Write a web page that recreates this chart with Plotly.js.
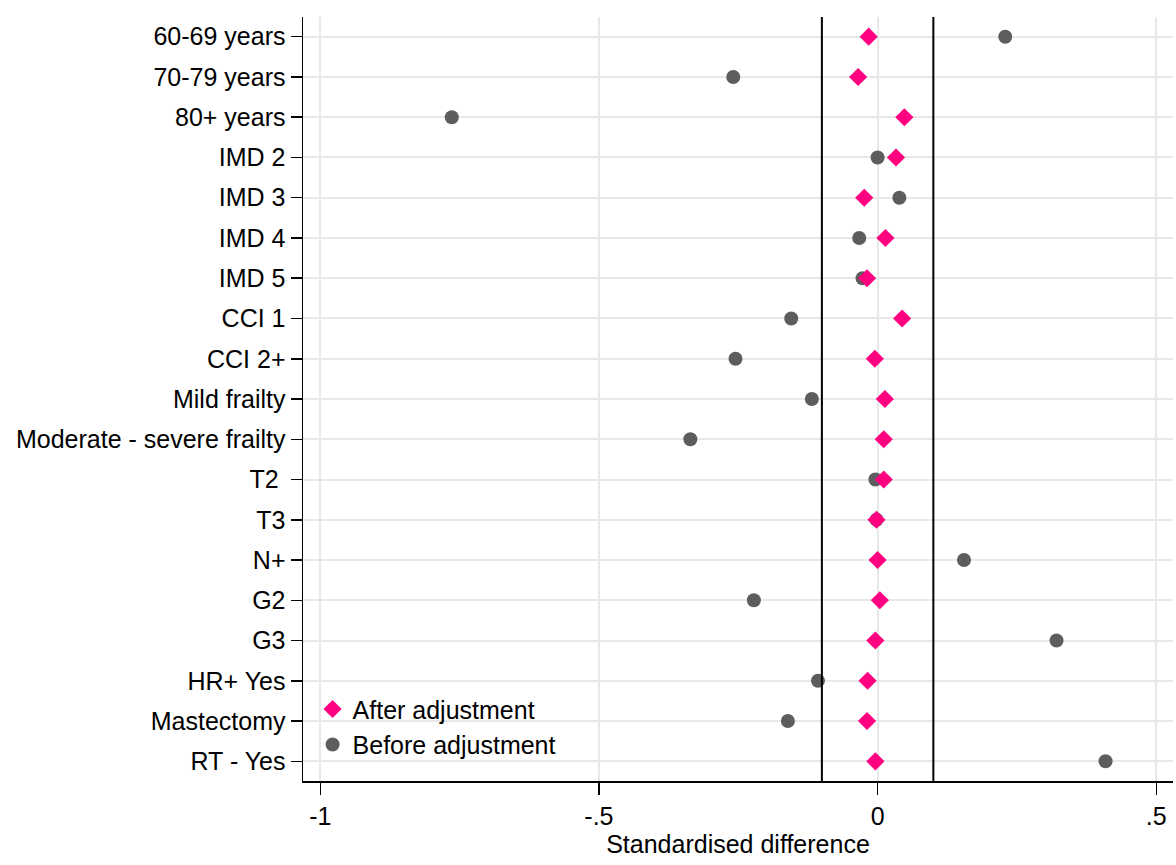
<!DOCTYPE html>
<html>
<head>
<meta charset="utf-8">
<script src="https://cdn.plot.ly/plotly-3.0.1.min.js"></script>
<style>
  html, body { margin: 0; padding: 0; background: #ffffff; }
  #chart { width: 1176px; height: 865px; }
</style>
</head>
<body>
<div id="chart"></div>
<script>
const categories = [
  "60-69 years", "70-79 years", "80+ years",
  "IMD 2", "IMD 3", "IMD 4", "IMD 5",
  "CCI 1", "CCI 2+",
  "Mild frailty", "Moderate - severe frailty",
  "T2 ", "T3", "N+", "G2", "G3",
  "HR+ Yes", "Mastectomy", "RT - Yes"
];
const beforeAdj = [
  0.229, -0.259, -0.764,
  0.000, 0.039, -0.033, -0.027,
  -0.155, -0.255,
  -0.118, -0.336,
  -0.004, -0.002, 0.155, -0.222, 0.321,
  -0.107, -0.161, 0.409
];
const afterAdj = [
  -0.016, -0.035, 0.048,
  0.033, -0.024, 0.014, -0.019,
  0.044, -0.005,
  0.013, 0.011,
  0.011, -0.002, 0.000, 0.004, -0.004,
  -0.018, -0.019, -0.004
];
const xTickVals = [-1, -0.5, 0, 0.5];
const xTickText = ["-1", "-.5", "0", ".5"];
const refLines = [-0.1, 0.1];

const FONT = "Liberation Sans, Arial, sans-serif";

const traces = [
  {
    type: "scatter", mode: "markers", name: "Before adjustment",
    x: beforeAdj, y: categories,
    marker: { symbol: "circle", size: 14, color: "#5d5d5d" },
    cliponaxis: false
  },
  {
    type: "scatter", mode: "markers", name: "After adjustment",
    x: afterAdj, y: categories,
    marker: { symbol: "diamond", size: 14, color: "#ff0080" },
    cliponaxis: false
  }
];

const shapes = refLines.map(v => ({
  type: "line", xref: "x", yref: "paper",
  x0: v, x1: v, y0: 0, y1: 1,
  line: { color: "#000000", width: 2 },
  layer: "above"
}));

const layout = {
  width: 1176, height: 865,
  paper_bgcolor: "#ffffff", plot_bgcolor: "#ffffff",
  margin: { l: 303, r: 3, t: 17, b: 84 },
  font: { family: FONT, size: 25, color: "#000000" },
  showlegend: true,
  legend: {
    traceorder: "reversed",
    x: 0.011, y: 0.018, xanchor: "left", yanchor: "bottom",
    bgcolor: "rgba(0,0,0,0)",
    font: { family: FONT, size: 25, color: "#000000" }
  },
  xaxis: {
    range: [-1.031, 0.530],
    tickvals: xTickVals, ticktext: xTickText,
    ticks: "outside", ticklen: 12, tickwidth: 1.5, tickcolor: "#000000",
    showline: true, linecolor: "#000000", linewidth: 1.5,
    showgrid: true, gridcolor: "#e8e8e8", gridwidth: 2,
    zeroline: false,
    tickfont: { family: FONT, size: 25, color: "#000000" },
    title: { text: "Standardised difference", font: { family: FONT, size: 25, color: "#000000" }, standoff: 4 }
  },
  yaxis: {
    type: "category",
    categoryorder: "array", categoryarray: categories,
    range: [18.49, -0.49],
    ticks: "outside", ticklen: 11, tickwidth: 1.5, tickcolor: "#000000",
    showline: true, linecolor: "#000000", linewidth: 1.5,
    showgrid: true, gridcolor: "#e8e8e8", gridwidth: 2,
    zeroline: false,
    tickfont: { family: FONT, size: 25, color: "#000000" },
    automargin: false
  },
  shapes: shapes
};

Plotly.newPlot("chart", traces, layout, { staticPlot: true, displayModeBar: false });
</script>
</body>
</html>
